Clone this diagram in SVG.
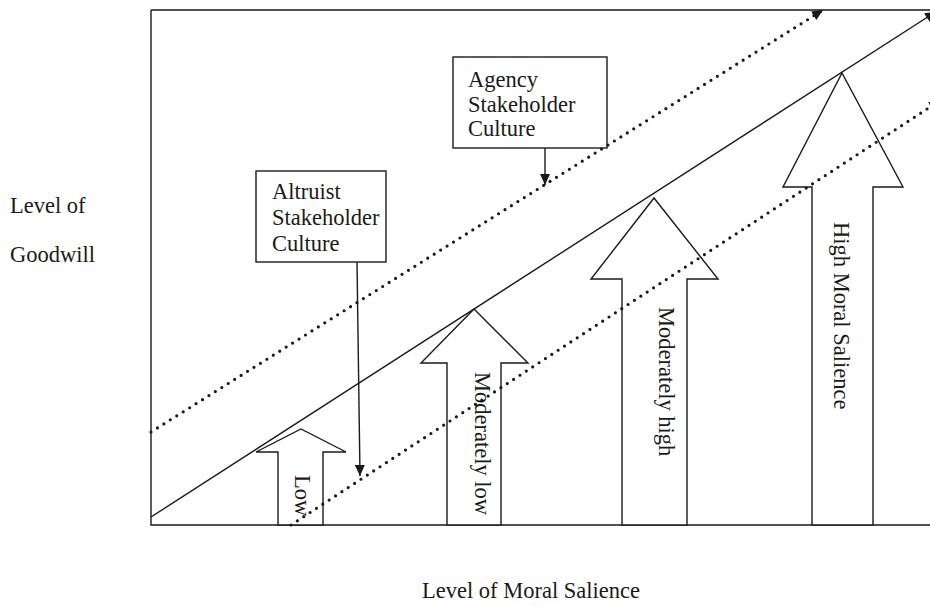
<svg xmlns="http://www.w3.org/2000/svg" width="930" height="606" viewBox="0 0 930 606">
<style>
  text { font-family: "Liberation Serif", "Times New Roman", serif; font-size: 22.5px; fill: #1a1a1a; }
  .ln { fill: none; stroke: #1a1a1a; stroke-width: 1.4; }
  .blk { fill: #ffffff; stroke: #1a1a1a; stroke-width: 1.4; stroke-linejoin: miter; }
  .box { fill: #ffffff; stroke: #1a1a1a; stroke-width: 1.4; }
  .dot { fill: none; stroke: #1a1a1a; stroke-width: 3.2; stroke-linecap: round; stroke-dasharray: 0 7.6; }
</style>
<defs>
  <marker id="ah" markerUnits="userSpaceOnUse" markerWidth="12" markerHeight="10" refX="11" refY="5" orient="auto">
    <path d="M0,0 L11,5 L0,10 z" fill="#1a1a1a"/>
  </marker>
</defs>
<rect x="0" y="0" width="930" height="606" fill="#ffffff"/>

<g id="frame">
  <path class="ln" d="M151,10 L930,10 M151,10 L151,525 L930,525"/>
</g>

<g id="arrow-low">
  <polygon class="blk" points="278,525 278,452 256,452 301,429 346,452 323,452 323,525"/>
  <text transform="translate(295,475) rotate(90)">Low</text>
</g>
<g id="arrow-moderately-low">
  <polygon class="blk" points="447,525 447,363 421,363 474,309 528,363 501,363 501,525"/>
  <text transform="translate(475,372) rotate(90)">Moderately low</text>
</g>
<g id="arrow-moderately-high">
  <polygon class="blk" points="622,525 622,279 591,279 654,198 718,279 687,279 687,525"/>
  <text transform="translate(659,307) rotate(90)">Moderately high</text>
</g>
<g id="arrow-high">
  <polygon class="blk" points="812,525 812,187 783,187 842,73 903,187 873,187 873,525"/>
  <text transform="translate(834,222) rotate(90)">High Moral Salience</text>
</g>

<g id="box-agency">
  <rect class="box" x="453" y="57" width="154" height="91"/>
  <text x="468" y="87">Agency</text>
  <text x="468" y="111.5">Stakeholder</text>
  <text x="468" y="136">Culture</text>
</g>
<g id="box-altruist">
  <rect class="box" x="256" y="171" width="130" height="91"/>
  <text x="272" y="199">Altruist</text>
  <text x="272" y="225">Stakeholder</text>
  <text x="272" y="251">Culture</text>
</g>

<g id="connectors">
  <line class="ln" x1="151" y1="517" x2="936" y2="11.6" marker-end="url(#ah)"/>
  <line class="dot" x1="151" y1="432" x2="823" y2="10" marker-end="url(#ah)"/>
  <line class="dot" x1="291" y1="525" x2="940" y2="100.5" marker-end="url(#ah)"/>
  <line class="ln" x1="545" y1="148" x2="545" y2="185" marker-end="url(#ah)"/>
  <line class="ln" x1="357" y1="262" x2="360" y2="476" marker-end="url(#ah)"/>
</g>

<g id="axis-labels">
  <text x="10" y="213">Level of</text>
  <text x="10" y="262">Goodwill</text>
  <text x="531" y="598" text-anchor="middle">Level of Moral Salience</text>
</g>
</svg>
